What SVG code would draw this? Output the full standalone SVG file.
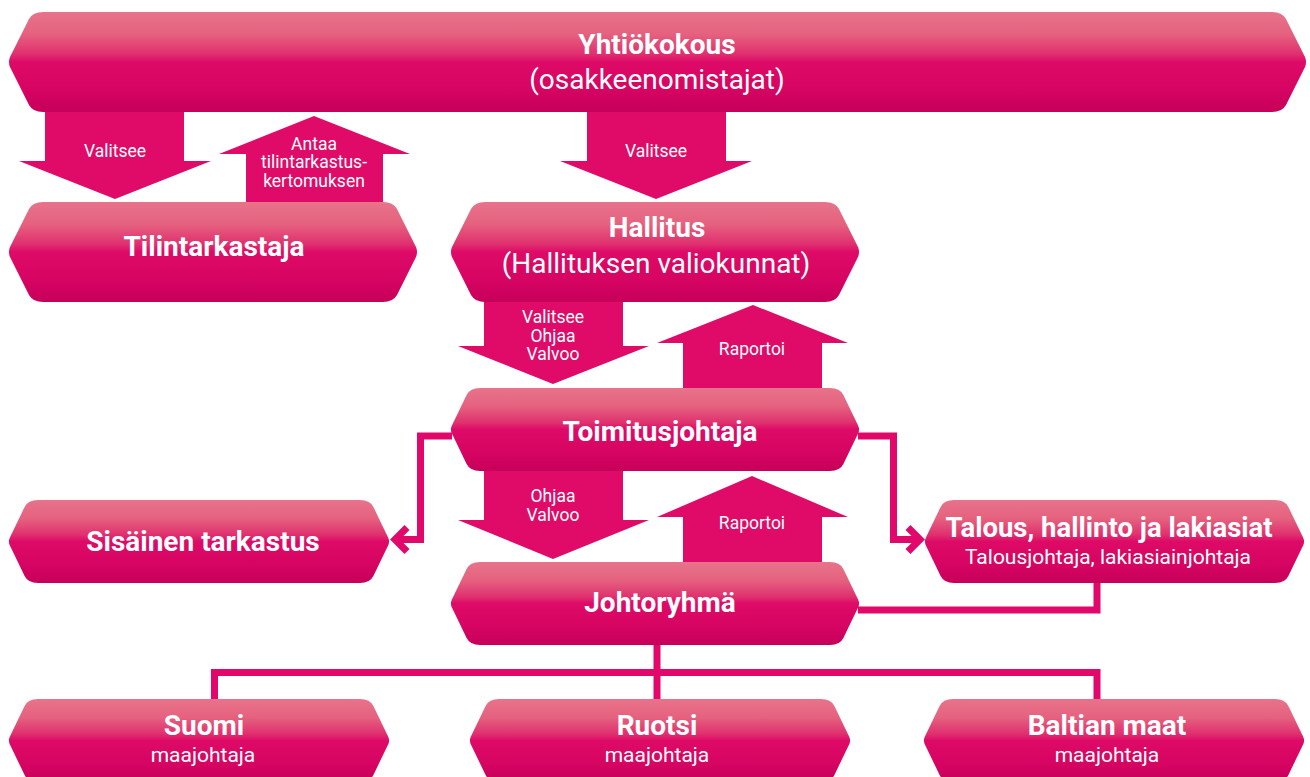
<svg xmlns="http://www.w3.org/2000/svg" width="1310" height="777" viewBox="0 0 1310 777">
<defs>
<linearGradient id="g" x1="0" y1="0" x2="0" y2="1">
<stop offset="0" stop-color="#e8738b"/>
<stop offset="0.22" stop-color="#e5627f"/>
<stop offset="0.42" stop-color="#e0306f"/>
<stop offset="0.5" stop-color="#de0a67"/>
<stop offset="0.78" stop-color="#d60462"/>
<stop offset="1" stop-color="#c6005a"/>
</linearGradient>
</defs>
<style>
.node{fill:url(#g)}
.arr{fill:#e00b69}
.con{fill:none;stroke:#e2076a;stroke-width:7;stroke-linejoin:miter}
text{font-family:Roboto,"Noto Sans",sans-serif;fill:#ffffff;text-anchor:middle}
.b{font-weight:700}
.t2{font-size:28px}
.t3{font-size:27.5px}
.s{font-size:21px}
.l{font-size:17.5px}
</style>
<g id="arrows">
<path class="arr" d="M45,110 H184 V161 H211 L115,199 L19,161 H45 Z"/>
<path class="arr" d="M246,204 V154 H219 L314,116 L410,154 H383 V204 Z"/>
<path class="arr" d="M587,110 H726 V161 H752 L656,199 L560,161 H587 Z"/>
<path class="arr" d="M484,300 H623 V346 H649 L553,384 L458,346 H484 Z"/>
<path class="arr" d="M683,390 V343 H657 L753,305 L848,343 H822 V390 Z"/>
<path class="arr" d="M484,469 H623 V520 H649 L553,559 L458,520 H484 Z"/>
<path class="arr" d="M683,564 V517 H657 L752,476 L848,517 H822 V564 Z"/>
<text class="l" x="115" y="157">Valitsee</text>
<text class="l" x="314" y="150">Antaa</text>
<text class="l" x="314" y="168">tilintarkastus-</text>
<text class="l" x="314" y="187">kertomuksen</text>
<text class="l" x="656" y="157">Valitsee</text>
<text class="l" x="553" y="323">Valitsee</text>
<text class="l" x="553" y="342">Ohjaa</text>
<text class="l" x="553" y="360">Valvoo</text>
<text class="l" x="752" y="355">Raportoi</text>
<text class="l" x="553" y="502">Ohjaa</text>
<text class="l" x="553" y="521">Valvoo</text>
<text class="l" x="752" y="529">Raportoi</text>
</g>
<g id="connectors">
<path class="con" d="M452,436 H420.5 V539.5 H397"/>
<path class="con" d="M407,527.5 L395,539.5 L407,551.5"/>
<path class="con" d="M858,436 H893.5 V539.5 H918"/>
<path class="con" d="M908,527.5 L920,539.5 L908,551.5"/>
<path class="con" d="M1097,581 V610 H858"/>
<path class="con" d="M657,643 V701"/>
<path class="con" d="M214.5,701 V672.5 H1097 V701"/>
</g>
<g id="yhtiokokous">
<path class="node" d="M43,12 H1272 Q1282,12 1286,19 L1305,57 Q1307,62 1305,67 L1286,105 Q1282,112 1272,112 H43 Q33,112 29,105 L10,67 Q8,62 10,57 L29,19 Q33,12 43,12 Z"/>
<text class="b t2" x="657" y="54">Yhtiökokous</text>
<text class="t2" x="657" y="89">(osakkeenomistajat)</text>
</g>
<g id="tilintarkastaja">
<path class="node" d="M43,202 H383 Q393,202 397,209 L416,247 Q418,252 416,257 L397,295 Q393,302 383,302 H43 Q33,302 29,295 L10,257 Q8,252 10,247 L29,209 Q33,202 43,202 Z"/>
<text class="b t2" x="214" y="256">Tilintarkastaja</text>
</g>
<g id="hallitus">
<path class="node" d="M485,202 H825 Q835,202 839,209 L858,247 Q860,252 858,257 L839,295 Q835,302 825,302 H485 Q475,302 471,295 L452,257 Q450,252 452,247 L471,209 Q475,202 485,202 Z"/>
<text class="b t2" x="657" y="237">Hallitus</text>
<text class="t2" x="656" y="273">(Hallituksen valiokunnat)</text>
</g>
<g id="toimitusjohtaja">
<path class="node" d="M480,388 H830 Q840,388 843.4,395 L858.1,425.5 Q860,429.5 858.1,433.5 L843.4,464 Q840,471 830,471 H480 Q470,471 466.6,464 L451.9,433.5 Q450,429.5 451.9,425.5 L466.6,395 Q470,388 480,388 Z"/>
<text class="b t2" x="660" y="441">Toimitusjohtaja</text>
</g>
<g id="johtoryhma">
<path class="node" d="M480,562 H830 Q840,562 843.4,569 L858.1,599.5 Q860,603.5 858.1,607.5 L843.4,638 Q840,645 830,645 H480 Q470,645 466.6,638 L451.9,607.5 Q450,603.5 451.9,599.5 L466.6,569 Q470,562 480,562 Z"/>
<text class="b t2" x="660" y="612">Johtoryhmä</text>
</g>
<g id="sisainen">
<path class="node" d="M38,500 H360 Q370,500 373.4,507 L388.1,537.5 Q390,541.5 388.1,545.5 L373.4,576 Q370,583 360,583 H38 Q28,583 24.6,576 L9.9,545.5 Q8,541.5 9.9,537.5 L24.6,507 Q28,500 38,500 Z"/>
<text class="b t2" x="203" y="551">Sisäinen tarkastus</text>
</g>
<g id="talous">
<path class="node" d="M954,500 H1275 Q1285,500 1288.4,507 L1303.1,537.5 Q1305,541.5 1303.1,545.5 L1288.4,576 Q1285,583 1275,583 H954 Q944,583 940.6,576 L925.9,545.5 Q924,541.5 925.9,537.5 L940.6,507 Q944,500 954,500 Z"/>
<text class="b t3" x="1109" y="537">Talous, hallinto ja lakiasiat</text>
<text class="s" x="1108" y="564">Talousjohtaja, lakiasiainjohtaja</text>
</g>
<g id="suomi">
<path class="node" d="M38,699 H360 Q370,699 373.4,706 L388.1,736.5 Q390,740.5 388.1,744.5 L373.4,775 Q370,782 360,782 H38 Q28,782 24.6,775 L9.9,744.5 Q8,740.5 9.9,736.5 L24.6,706 Q28,699 38,699 Z"/>
<text class="b t2" x="204" y="735">Suomi</text>
<text class="s" x="203" y="762">maajohtaja</text>
</g>
<g id="ruotsi">
<path class="node" d="M499,699 H821 Q831,699 834.4,706 L849.1,736.5 Q851,740.5 849.1,744.5 L834.4,775 Q831,782 821,782 H499 Q489,782 485.6,775 L470.9,744.5 Q469,740.5 470.9,736.5 L485.6,706 Q489,699 499,699 Z"/>
<text class="b t2" x="657" y="735">Ruotsi</text>
<text class="s" x="657" y="762">maajohtaja</text>
</g>
<g id="baltian">
<path class="node" d="M953,699 H1275 Q1285,699 1288.4,706 L1303.1,736.5 Q1305,740.5 1303.1,744.5 L1288.4,775 Q1285,782 1275,782 H953 Q943,782 939.6,775 L924.9,744.5 Q923,740.5 924.9,736.5 L939.6,706 Q943,699 953,699 Z"/>
<text class="b t2" x="1107" y="735">Baltian maat</text>
<text class="s" x="1107" y="762">maajohtaja</text>
</g>
</svg>
